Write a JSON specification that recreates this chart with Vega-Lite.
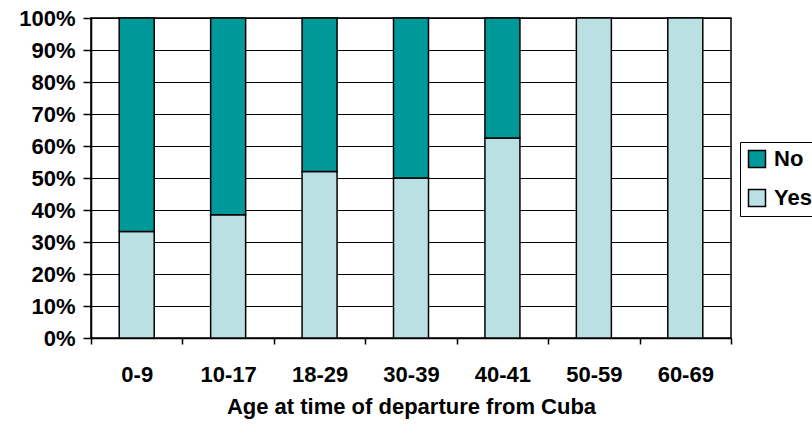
{
  "$schema": "https://vega.github.io/schema/vega-lite/v6.json",
  "width": 640,
  "height": 320,
  "autosize": {"type": "none"},
  "padding": {"left": 91, "top": 18, "right": 81, "bottom": 96},
  "background": "white",
  "config": {
    "font": "Liberation Sans",
    "view": {"stroke": "black", "strokeWidth": 1.5},
    "axis": {"labelFont": "Liberation Sans", "titleFont": "Liberation Sans"}
  },
  "data": {
    "values": [
      {"age": "0-9", "response": "Yes", "share": 0.333},
      {"age": "0-9", "response": "No", "share": 0.667},
      {"age": "10-17", "response": "Yes", "share": 0.385},
      {"age": "10-17", "response": "No", "share": 0.615},
      {"age": "18-29", "response": "Yes", "share": 0.52},
      {"age": "18-29", "response": "No", "share": 0.48},
      {"age": "30-39", "response": "Yes", "share": 0.5},
      {"age": "30-39", "response": "No", "share": 0.5},
      {"age": "40-41", "response": "Yes", "share": 0.625},
      {"age": "40-41", "response": "No", "share": 0.375},
      {"age": "50-59", "response": "Yes", "share": 1.0},
      {"age": "60-69", "response": "Yes", "share": 1.0}
    ]
  },
  "mark": {"type": "bar", "width": 35, "stroke": "black", "strokeWidth": 1.5},
  "encoding": {
    "x": {
      "field": "age",
      "type": "nominal",
      "sort": null,
      "scale": {"paddingInner": 0, "paddingOuter": 0},
      "axis": {
        "title": "Age at time of departure from Cuba",
        "titleFontSize": 22,
        "titleFontWeight": "bold",
        "titleColor": "black",
        "titlePadding": 11,
        "labelAngle": 0,
        "labelFontSize": 22,
        "labelFontWeight": "bold",
        "labelColor": "black",
        "labelPadding": 20,
        "tickBand": "extent",
        "tickSize": 6,
        "tickColor": "black",
        "tickWidth": 1.5,
        "domainColor": "black",
        "domainWidth": 1.5,
        "grid": false
      }
    },
    "y": {
      "field": "share",
      "type": "quantitative",
      "stack": "zero",
      "scale": {"domain": [0, 1]},
      "axis": {
        "title": null,
        "format": ".0%",
        "values": [0, 0.1, 0.2, 0.3, 0.4, 0.5, 0.6, 0.7, 0.8, 0.9, 1],
        "labelOverlap": false,
        "labelFontSize": 22,
        "labelFontWeight": "bold",
        "labelColor": "black",
        "labelPadding": 8,
        "tickSize": 8,
        "tickColor": "black",
        "tickWidth": 1.5,
        "domainColor": "black",
        "domainWidth": 1.5,
        "grid": true,
        "gridColor": "black",
        "gridOpacity": 1,
        "gridWidth": 1.2
      }
    },
    "color": {
      "field": "response",
      "type": "nominal",
      "scale": {"domain": ["No", "Yes"], "range": ["#009999", "#BBE0E3"]},
      "legend": {
        "title": null,
        "orient": "none",
        "legendX": 649,
        "legendY": 124,
        "padding": 6,
        "strokeColor": "black",
        "fillColor": "white",
        "symbolType": "square",
        "symbolSize": 289,
        "symbolStrokeColor": "black",
        "symbolStrokeWidth": 1.5,
        "symbolOpacity": 1,
        "labelFontSize": 22,
        "labelFontWeight": "bold",
        "labelColor": "black",
        "labelOffset": 6,
        "rowPadding": 15
      }
    },
    "order": {"field": "response", "sort": "descending"}
  }
}
